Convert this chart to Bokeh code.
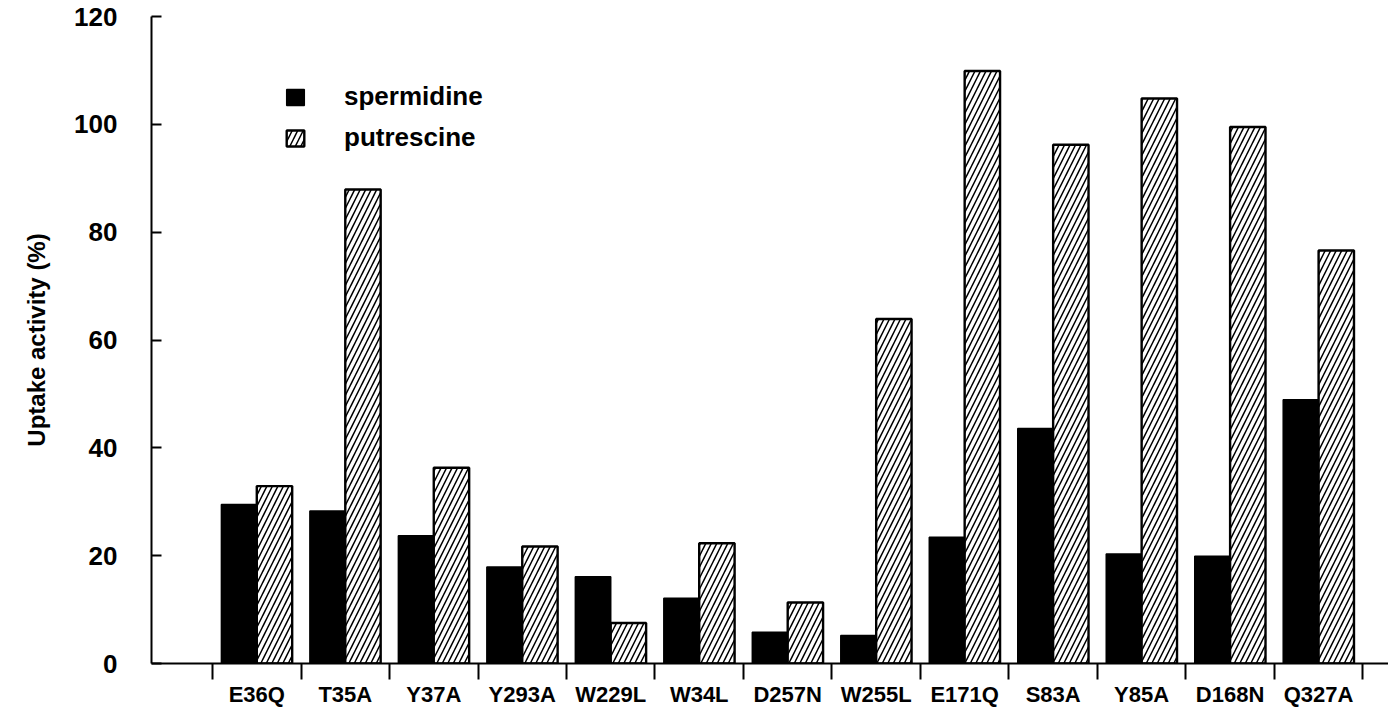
from bokeh.plotting import figure
from bokeh.models import FixedTicker, Range1d, Legend, LegendItem, ColumnDataSource
from bokeh.embed import file_html
from bokeh.resources import INLINE

mutants = ["E36Q", "T35A", "Y37A", "Y293A", "W229L", "W34L", "D257N",
           "W255L", "E171Q", "S83A", "Y85A", "D168N", "Q327A"]
spermidine = [29.5, 28.3, 23.7, 17.9, 16.1, 12.1, 5.8, 5.2, 23.4, 43.6, 20.3, 19.9, 48.9]
putrescine = [32.9, 87.9, 36.3, 21.7, 7.5, 22.3, 11.3, 63.9, 109.9, 96.2, 104.8, 99.5, 76.6]
y_ticks = [0, 20, 40, 60, 80, 100, 120]

FONT = "Liberation Sans"

idx = list(range(len(mutants)))
src = ColumnDataSource(dict(
    xs=[i + 0.5 - 0.2 for i in idx],
    xp=[i + 0.5 + 0.2 for i in idx],
    spermidine=spermidine,
    putrescine=putrescine,
))

p = figure(width=1388, height=709, output_backend="svg", toolbar_location=None,
           x_range=Range1d(-0.69, 13.29), y_range=Range1d(0, 120),
           min_border_left=151, min_border_top=16, min_border_bottom=0, min_border_right=0)
p.outline_line_color = None
p.grid.visible = False
p.background_fill_color = "white"

r1 = p.vbar(x="xs", top="spermidine", width=0.4, bottom=0, source=src,
            fill_color="black", line_color="black", line_width=1.5)
r2 = p.vbar(x="xp", top="putrescine", width=0.4, bottom=0, source=src,
            fill_color="white", line_color="black", line_width=2.4,
            hatch_pattern="/", hatch_color="black", hatch_weight=1.5, hatch_scale=11)

# x axis
xa = p.xaxis[0]
xa.ticker = FixedTicker(ticks=[i + 0.5 for i in idx], minor_ticks=list(range(len(mutants) + 1)))
xa.major_label_overrides = {i + 0.5: m for i, m in zip(idx, mutants)}
xa.major_tick_in = 0
xa.major_tick_out = 0
xa.minor_tick_in = 0
xa.minor_tick_out = 16
xa.minor_tick_line_width = 2
xa.minor_tick_line_color = "black"
xa.axis_line_width = 2
xa.axis_line_color = "black"
xa.major_label_standoff = 2
xa.major_label_text_font = FONT
xa.major_label_text_font_style = "bold"
xa.major_label_text_font_size = "22px"
xa.major_label_text_color = "black"

# y axis
ya = p.yaxis[0]
ya.ticker = FixedTicker(ticks=y_ticks, minor_ticks=[])
ya.major_tick_in = 10
ya.major_tick_out = 0
ya.minor_tick_in = 0
ya.minor_tick_out = 0
ya.major_tick_line_width = 2
ya.major_tick_line_color = "black"
ya.axis_line_width = 2
ya.axis_line_color = "black"
ya.major_label_standoff = 34
ya.major_label_text_font = FONT
ya.major_label_text_font_style = "bold"
ya.major_label_text_font_size = "26px"
ya.major_label_text_color = "black"
ya.axis_label = "Uptake activity (%)"
ya.axis_label_text_font = FONT
ya.axis_label_text_font_style = "bold"
ya.axis_label_text_font_size = "24px"
ya.axis_label_text_color = "black"
ya.axis_label_standoff = 21

legend = Legend(items=[LegendItem(label="spermidine", renderers=[r1]),
                       LegendItem(label="putrescine", renderers=[r2])],
                location=(133, 510), orientation="vertical")
legend.border_line_alpha = 0
legend.background_fill_alpha = 0
legend.padding = 0
legend.margin = 0
legend.spacing = 10
legend.glyph_width = 22
legend.glyph_height = 20
legend.label_standoff = 38
legend.label_height = 30
legend.label_text_font = FONT
legend.label_text_font_style = "bold"
legend.label_text_font_size = "26px"
legend.label_text_color = "black"
p.add_layout(legend)

open("out.html", "w").write(file_html(p, INLINE))
